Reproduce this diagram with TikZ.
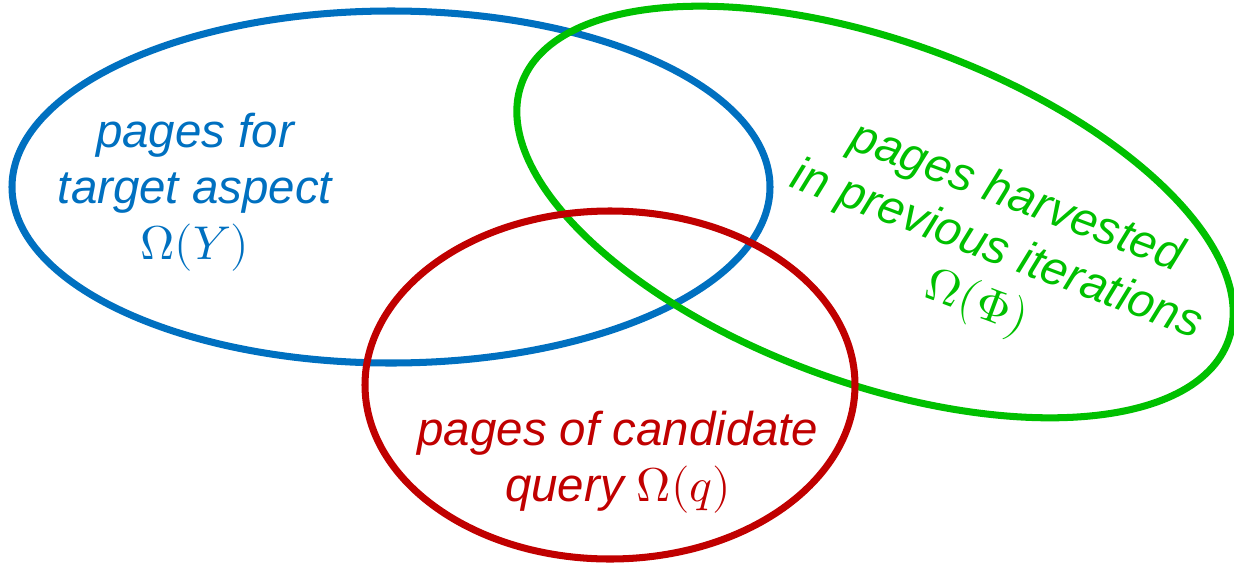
\documentclass[tikz,border=0pt]{standalone}
\usepackage{fontspec}
\usepackage{unicode-math}
\setmainfont{Liberation Sans}
\definecolor{setblue}{RGB}{0,112,192}
\definecolor{setgreen}{RGB}{0,192,0}
\definecolor{setred}{RGB}{192,0,0}
\begin{document}
\begin{tikzpicture}[x=0.02cm,y=-0.02cm,
    setline/.style={line width=4pt},
    setlabel/.style={align=center,font=\fontsize{27}{32}\selectfont\itshape}]
            \useasboundingbox (0,0) rectangle (1234,565);
            \draw[setblue,setline] (391,187) ellipse [x radius=379, y radius=176];
            \draw[setgreen,setline,rotate around={-20:(875,212)}] (875,212) ellipse [x radius=376, y radius=171];
            \draw[setred,setline] (610,385) ellipse [x radius=245, y radius=174];
            \node[setlabel,text=setblue] (ylabel) at (195,192) {pages for\\target aspect\\$\Omega(Y)$};
            \node[setlabel,text=setgreen,rotate=-20.5] (philabel) at (996,252) {pages harvested\\in previous iterations\\$\Omega(\Phi)$};
            \node[setlabel,text=setred] (qlabel) at (618,462) {pages of candidate\\query $\Omega(q)$};
        \end{tikzpicture}
\end{document}
